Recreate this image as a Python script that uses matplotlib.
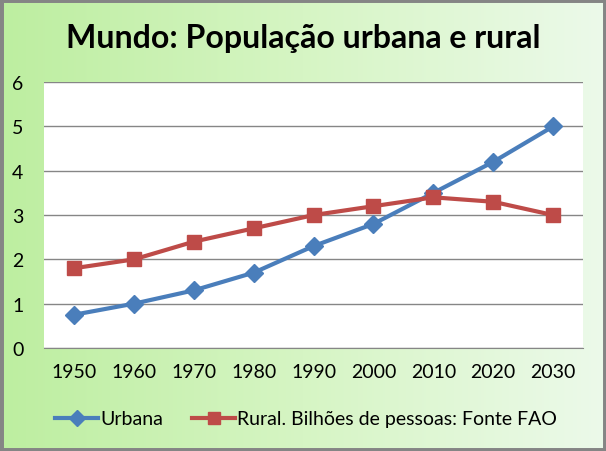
import matplotlib.pyplot as plt
import numpy as np
from matplotlib.colors import LinearSegmentedColormap
from matplotlib.patches import Rectangle

anos = [1950, 1960, 1970, 1980, 1990, 2000, 2010, 2020, 2030]
urbana = [0.75, 1.0, 1.3, 1.7, 2.3, 2.8, 3.5, 4.2, 5.0]
rural = [1.8, 2.0, 2.4, 2.7, 3.0, 3.2, 3.4, 3.3, 3.0]

plt.rcParams['font.family'] = ['Lato', 'DejaVu Sans']

fig = plt.figure(figsize=(6.06, 4.52), dpi=100)

# green gradient background
bg = fig.add_axes([0, 0, 1, 1], zorder=-10)
grad = np.linspace(0, 1, 256).reshape(1, -1)
cmap = LinearSegmentedColormap.from_list('verde', ['#bdeea0', '#d6f5c4', '#ecfaea'])
bg.imshow(grad, aspect='auto', cmap=cmap, extent=[0, 1, 0, 1])
bg.add_patch(Rectangle((0, 0), 1, 1, fill=False, edgecolor='#858585', linewidth=5,
                       transform=bg.transAxes))
bg.set_xlim(0, 1)
bg.set_ylim(0, 1)
bg.axis('off')

ax = fig.add_axes([0.073, 0.228, 0.889, 0.588])
ax.set_facecolor('white')
x = np.arange(len(anos))
ax.plot(x, urbana, color='#4a7ebb', linewidth=3, marker='D', markersize=9,
        label='Urbana', zorder=3)
ax.plot(x, rural, color='#be4b48', linewidth=3, marker='s', markersize=10,
        label='Rural. Bilhões de pessoas: Fonte FAO', zorder=3)

ax.set_xlim(-0.5, len(anos) - 0.5)
ax.set_ylim(0, 6)
ax.set_yticks(range(7))
ax.set_xticks(x)
ax.set_xticklabels([str(a) for a in anos])
ax.tick_params(axis='both', length=0, labelsize=14, colors='black')
ax.tick_params(axis='x', pad=11)
ax.tick_params(axis='y', pad=15)
ax.grid(axis='y', color='#868686', linewidth=1)
ax.set_axisbelow(True)
for s in ['top', 'right', 'left']:
    ax.spines[s].set_visible(False)
ax.spines['bottom'].set_color('#868686')

fig.text(0.5, 0.914, 'Mundo: População urbana e rural', ha='center', va='center',
         fontsize=23, fontweight='bold')

fig.legend(loc='center', bbox_to_anchor=(0.505, 0.071), ncol=2, frameon=False,
           fontsize=14, handlelength=2.2, columnspacing=1.5, handletextpad=0.1,
           markerscale=0.85)

fig.savefig('out.png', dpi=100)
